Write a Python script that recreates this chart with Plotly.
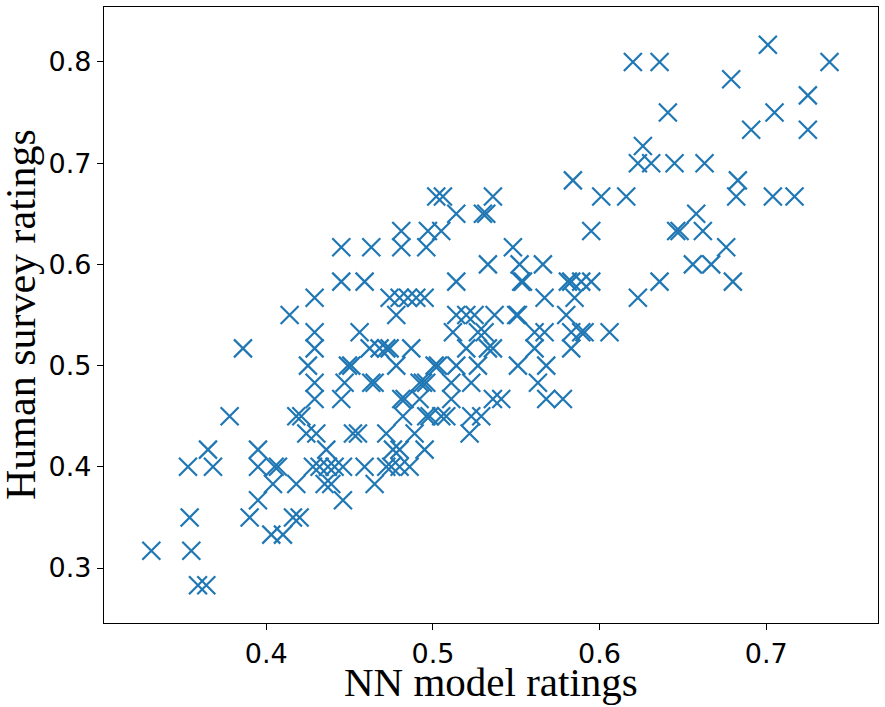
import plotly.graph_objects as go

# NN model ratings (x) and human survey ratings (y)
nn_ratings = [
    0.331, 0.355, 0.359, 0.364, 0.354, 0.353, 0.368, 0.365, 0.378, 0.386,
    0.395, 0.395, 0.405, 0.407, 0.404, 0.418, 0.395, 0.390, 0.403, 0.410,
    0.416, 0.420, 0.418, 0.421, 0.414, 0.424, 0.430, 0.425, 0.429, 0.429,
    0.429, 0.429, 0.429, 0.436, 0.428, 0.432, 0.437, 0.441, 0.446, 0.435,
    0.439, 0.446, 0.445, 0.445, 0.445, 0.447, 0.449, 0.451, 0.452, 0.455,
    0.456, 0.459, 0.463, 0.459, 0.465, 0.462, 0.468, 0.472, 0.474, 0.487,
    0.463, 0.465, 0.472, 0.474, 0.480, 0.485, 0.490, 0.495, 0.478, 0.481,
    0.481, 0.496, 0.497, 0.505, 0.478, 0.481, 0.483, 0.472, 0.475, 0.480,
    0.486, 0.476, 0.480, 0.482, 0.489, 0.495, 0.494, 0.492, 0.496, 0.492,
    0.496, 0.498, 0.505, 0.508, 0.501, 0.503, 0.502, 0.506, 0.511, 0.511,
    0.512, 0.514, 0.514, 0.514, 0.514, 0.520, 0.525, 0.520, 0.523, 0.523,
    0.522, 0.527, 0.527, 0.531, 0.530, 0.532, 0.529, 0.533, 0.536, 0.533,
    0.536, 0.537, 0.536, 0.541, 0.548, 0.550, 0.551, 0.551, 0.552, 0.553,
    0.554, 0.561, 0.567, 0.561, 0.563, 0.566, 0.567, 0.568, 0.568, 0.578,
    0.580, 0.581, 0.583, 0.583, 0.583, 0.589, 0.591, 0.584, 0.585, 0.589,
    0.595, 0.595, 0.601, 0.606, 0.616, 0.620, 0.623, 0.623, 0.626, 0.631,
    0.636, 0.636, 0.641, 0.645, 0.646, 0.648, 0.656, 0.658, 0.662, 0.663,
    0.667, 0.676, 0.679, 0.680, 0.682, 0.683, 0.691, 0.701, 0.704, 0.705,
    0.717, 0.725, 0.725, 0.738,
]
human_ratings = [
    0.317, 0.317, 0.283, 0.283, 0.350, 0.400, 0.400, 0.417, 0.450, 0.517,
    0.417, 0.400, 0.400, 0.400, 0.383, 0.383, 0.367, 0.350, 0.333, 0.333,
    0.350, 0.350, 0.450, 0.450, 0.550, 0.433, 0.433, 0.500, 0.567, 0.533,
    0.517, 0.483, 0.467, 0.417, 0.400, 0.400, 0.400, 0.400, 0.400, 0.383,
    0.383, 0.367, 0.617, 0.583, 0.467, 0.483, 0.500, 0.500, 0.433, 0.433,
    0.533, 0.583, 0.617, 0.400, 0.383, 0.517, 0.517, 0.517, 0.517, 0.517,
    0.483, 0.483, 0.433, 0.567, 0.567, 0.567, 0.567, 0.567, 0.550, 0.633,
    0.617, 0.617, 0.633, 0.633, 0.500, 0.467, 0.467, 0.400, 0.400, 0.400,
    0.400, 0.417, 0.417, 0.450, 0.433, 0.417, 0.483, 0.483, 0.483, 0.467,
    0.450, 0.450, 0.450, 0.450, 0.500, 0.500, 0.667, 0.667, 0.483, 0.467,
    0.533, 0.500, 0.650, 0.583, 0.550, 0.550, 0.550, 0.517, 0.483, 0.450,
    0.433, 0.500, 0.533, 0.533, 0.650, 0.650, 0.450, 0.517, 0.517, 0.600,
    0.667, 0.550, 0.467, 0.467, 0.617, 0.550, 0.550, 0.500, 0.600, 0.583,
    0.583, 0.533, 0.533, 0.517, 0.483, 0.600, 0.567, 0.500, 0.467, 0.467,
    0.550, 0.583, 0.583, 0.517, 0.533, 0.533, 0.533, 0.683, 0.567, 0.583,
    0.583, 0.633, 0.667, 0.533, 0.667, 0.800, 0.567, 0.700, 0.717, 0.700,
    0.800, 0.583, 0.750, 0.700, 0.633, 0.633, 0.600, 0.650, 0.633, 0.700,
    0.600, 0.617, 0.783, 0.583, 0.667, 0.683, 0.733, 0.817, 0.667, 0.750,
    0.667, 0.767, 0.733, 0.800,
]

x_ticks = [0.4, 0.5, 0.6, 0.7]
y_ticks = [0.3, 0.4, 0.5, 0.6, 0.7, 0.8]
x_title = "NN model ratings"
y_title = "Human survey ratings"

fig = go.Figure()
fig.add_trace(go.Scatter(
    x=nn_ratings, y=human_ratings, mode="markers",
    marker=dict(symbol="x-thin", size=18, color="#1f77b4",
                line=dict(width=2.2, color="#1f77b4")),
))

axis_common = dict(
    showgrid=False, zeroline=False, showline=True, linecolor="black", linewidth=1.2,
    mirror=True, ticks="outside", ticklen=6, tickwidth=1.2, tickcolor="black",
    automargin=False,
    tickfont=dict(family="DejaVu Sans", size=27, color="black"),
)
fig.update_xaxes(range=[0.3026, 0.7671], tickvals=x_ticks,
                 ticktext=[str(v) for v in x_ticks], **axis_common)
fig.update_yaxes(range=[0.2457, 0.8543], tickvals=y_ticks,
                 ticktext=[str(v) for v in y_ticks], **axis_common)

fig.add_annotation(text=x_title, xref="paper", yref="paper", x=0.5, y=0,
                   xanchor="center", yanchor="middle", yshift=-59, showarrow=False,
                   font=dict(family="Liberation Serif", size=41, color="black"))
fig.add_annotation(text=y_title, xref="paper", yref="paper", x=0, y=0.5,
                   xanchor="center", yanchor="middle", xshift=-83, textangle=-90,
                   showarrow=False,
                   font=dict(family="Liberation Serif", size=42, color="black"))

fig.update_layout(
    width=885, height=707, showlegend=False,
    plot_bgcolor="white", paper_bgcolor="white",
    margin=dict(l=104, r=7, t=7, b=84),
)
# drop the browser's default body margin so the figure fills the window
fig.write_html("out.html", config={"displayModeBar": False},
               post_script="document.body.style.margin='0';")
